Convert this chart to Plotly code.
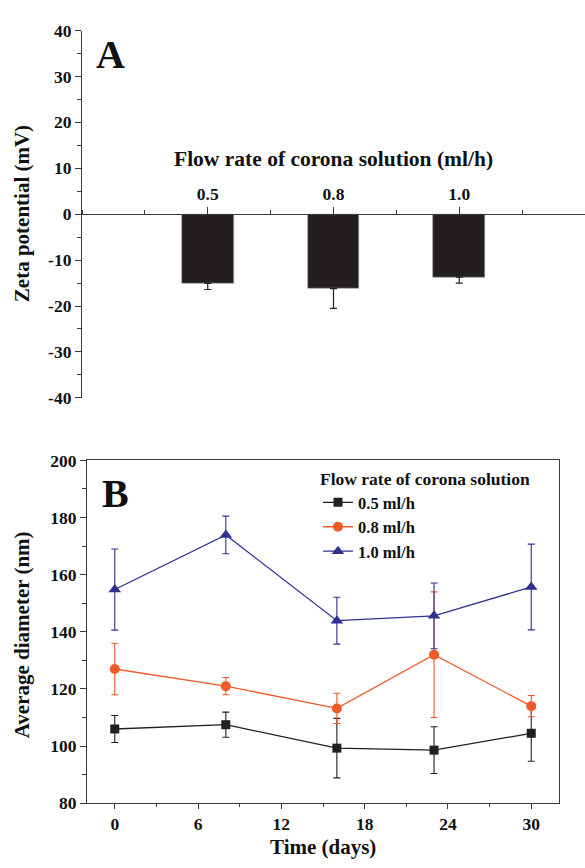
import plotly.graph_objects as go

# ---------------- Data ----------------
# Panel A: zeta potential by flow rate
flow_rates = ["0.5", "0.8", "1.0"]
zeta_mean = [-15.1, -16.2, -13.7]
zeta_err = [1.3, 4.3, 1.3]
zeta_ticks = [40, 30, 20, 10, 0, -10, -20, -30, -40]

# Panel B: average diameter over time
days = [0, 8, 16, 23, 30]
series_names = ["0.5 ml/h", "0.8 ml/h", "1.0 ml/h"]
diam_05 = [106.0, 107.5, 99.3, 98.6, 104.5]
err_05 = [4.7, 4.4, 10.4, 8.2, 9.8]
diam_08 = [127.0, 121.0, 113.2, 132.0, 114.0]
err_08 = [9.0, 3.0, 5.3, 22.0, 3.7]
diam_10 = [154.8, 173.9, 143.9, 145.6, 155.7]
err_10 = [14.2, 6.6, 8.2, 11.5, 15.0]
day_ticks = [0, 6, 12, 18, 24, 30]
diam_ticks = [80, 100, 120, 140, 160, 180, 200]

# ---------------- Styling ----------------
W, H = 585, 868
FONT = "Liberation Serif"
BLACK = "#231f20"
ORANGE = "#f05a28"
BLUE = "#2e3192"
AXC = "#3a3a3a"
TXT = "#111111"


def px_x(p):
    return p / W


def px_y(p):
    return 1 - p / H


fig = go.Figure()

# Panel A bars
bar_pos = list(range(1, len(flow_rates) + 1))
fig.add_trace(go.Bar(
    x=bar_pos, y=zeta_mean, width=0.41,
    marker=dict(color=BLACK, line=dict(color="#9a9a9a", width=0.6)),
    error_y=dict(type="data", symmetric=False, array=[0] * len(zeta_err),
                 arrayminus=zeta_err, color=BLACK, thickness=1.2, width=3.5),
    xaxis="x", yaxis="y", showlegend=False,
))

# Panel B lines
for name, vals, errs, col, sym, size in [
    (series_names[0], diam_05, err_05, BLACK, "square", 9),
    (series_names[1], diam_08, err_08, ORANGE, "circle", 10),
    (series_names[2], diam_10, err_10, BLUE, "triangle-up", 11),
]:
    fig.add_trace(go.Scatter(
        x=days, y=vals, name="<b>%s</b>" % name, mode="lines+markers",
        line=dict(color=col, width=1.3),
        marker=dict(color=col, symbol=sym, size=size),
        error_y=dict(type="data", array=errs, color=col, thickness=1.1, width=3.5),
        xaxis="x2", yaxis="y2",
    ))

tickfont = dict(family=FONT, size=17.5, color=TXT)

fig.update_layout(
    width=W, height=H,
    margin=dict(l=0, r=0, t=0, b=0),
    paper_bgcolor="white", plot_bgcolor="rgba(0,0,0,0)",
    font=dict(family=FONT, color=TXT),
    bargap=0,
    xaxis=dict(
        domain=[px_x(82), 1.0], range=[0, len(flow_rates) + 1],
        anchor="free", position=px_y(209), side="top",
        tickmode="array", tickvals=bar_pos, ticktext=["<b>%s</b>" % c for c in flow_rates],
        ticks="outside", ticklen=7, tickwidth=1, tickcolor=AXC,
        minor=dict(ticks="outside", ticklen=4, tickwidth=1, tickcolor=AXC,
                   tickmode="linear", tick0=0, dtick=0.5),
        showline=True, linecolor=AXC, linewidth=1.2,
        showgrid=False, zeroline=False, tickfont=tickfont,
    ),
    yaxis=dict(
        domain=[px_y(397), px_y(21)], range=[-40, 40],
        anchor="x",
        tickmode="array", tickvals=zeta_ticks,
        ticktext=["<b>%d</b>" % v if v >= 0 else "<b>-%d</b>" % (-v) for v in zeta_ticks],
        ticks="outside", ticklen=6, tickwidth=1, tickcolor=AXC,
        minor=dict(ticks="outside", ticklen=4, tickwidth=1, tickcolor=AXC,
                   tickmode="linear", tick0=0, dtick=5),
        showline=True, linecolor=AXC, linewidth=1.2,
        showgrid=False, zeroline=False, tickfont=tickfont,
    ),
    xaxis2=dict(
        domain=[px_x(87), px_x(559)], range=[-2, 32],
        anchor="y2",
        tickmode="array", tickvals=day_ticks, ticktext=["<b>%d</b>" % v for v in day_ticks],
        ticks="outside", ticklen=5, tickwidth=1, tickcolor=AXC,
        minor=dict(ticks="outside", ticklen=3, tickwidth=1, tickcolor=AXC,
                   tickmode="linear", tick0=0, dtick=3),
        showline=True, mirror=True, linecolor=AXC, linewidth=1.2,
        showgrid=False, zeroline=False, tickfont=tickfont,
    ),
    yaxis2=dict(
        domain=[px_y(812), px_y(461)], range=[80, 200],
        anchor="x2",
        tickmode="array", tickvals=diam_ticks, ticktext=["<b>%d</b>" % v for v in diam_ticks],
        ticks="outside", ticklen=6, tickwidth=1, tickcolor=AXC,
        minor=dict(ticks="outside", ticklen=4, tickwidth=1, tickcolor=AXC,
                   tickmode="linear", tick0=0, dtick=10),
        showline=True, mirror=True, linecolor=AXC, linewidth=1.2,
        showgrid=False, zeroline=False, tickfont=tickfont,
    ),
    legend=dict(
        x=px_x(318), y=px_y(463), xanchor="left", yanchor="top",
        bgcolor="rgba(0,0,0,0)",
        title=dict(text="<b>Flow rate of corona solution</b>", font=dict(family=FONT, size=17.5)),
        font=dict(family=FONT, size=16.5, color=TXT),
        itemwidth=30, tracegroupgap=0,
    ),
)

ann = [
    dict(text="<b>A</b>", x=px_x(110), y=px_y(46), font=dict(size=40)),
    dict(text="<b>B</b>", x=px_x(115), y=px_y(495), font=dict(size=40)),
    dict(text="<b>Flow rate of corona solution (ml/h)</b>", x=px_x(333), y=px_y(153), font=dict(size=21.5)),
    dict(text="<b>Zeta potential (mV)</b>", x=px_x(22), y=px_y(209), font=dict(size=21), textangle=-90),
    dict(text="<b>Average diameter (nm)</b>", x=px_x(22), y=px_y(640), font=dict(size=21), textangle=-90),
    dict(text="<b>Time (days)</b>", x=px_x(323), y=px_y(857), font=dict(size=21)),
]
for a in ann:
    a.update(xref="paper", yref="paper", showarrow=False, xanchor="center", yanchor="middle")
    a["font"].update(family=FONT, color=TXT)
fig.update_layout(annotations=ann)

fig.write_html(
    "out.html",
    config={"displayModeBar": False},
    post_script="document.body.style.margin='0px';document.body.style.overflow='hidden';",
)
